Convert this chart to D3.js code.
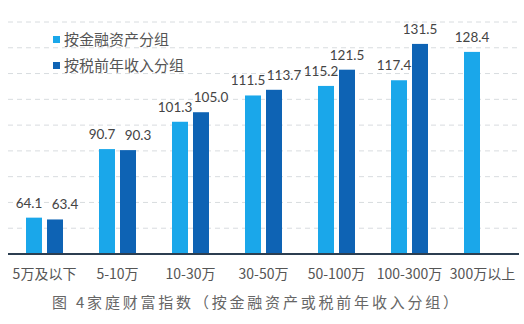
<!DOCTYPE html>
<meta charset="utf-8">
<head>
  <title>家庭财富指数</title>
</head>
<body style="margin:0;background:#fff;">
<style>
.grid line { stroke: #d8dcdf; stroke-dasharray: 5,4; }
.val { font: 13.5px "Lato", "Noto Sans", sans-serif; fill: #444; text-anchor: middle; }
.cat { font: 14px "Noto Sans CJK SC", sans-serif; fill: #555; text-anchor: middle; }
.leg { font: 15px "Noto Sans CJK SC", sans-serif; fill: #555; }
.cap { font: 15px "Noto Sans CJK SC", sans-serif; fill: #666; letter-spacing: 2.8px; }
</style>
<svg width="524" height="324"></svg>
<script src="https://d3js.org/d3.v7.min.js"></script>
<script>

var categories = ["5万及以下", "5-10万", "10-30万", "30-50万", "50-100万", "100-300万", "300万以上"];
var byAssets = [64.1, 90.7, 101.3, 111.5, 115.2, 117.4, 128.4];
var byIncome = [63.4, 90.3, 105.0, 113.7, 121.5, 131.5, null];
var seriesNames = ["按金融资产分组", "按税前年收入分组"];
var colors = ["#1aa7ea", "#0e63b4"];
var gridTicks = [60, 70, 80, 90, 100, 110, 120, 130, 140];

var svg = d3.select("svg"),
    plotL = 8, plotR = 519, plotT = 22, plotB = 254;

var x = d3.scaleBand().domain(categories).range([plotL, plotR]);
var y = d3.scaleLinear().domain([50, 140]).range([plotB, plotT]);

var barW = 16, gap = 5;

svg.append("g").attr("class", "grid")
  .selectAll("line").data(gridTicks).enter().append("line")
    .attr("x1", plotL).attr("x2", plotR)
    .attr("y1", function(d) { return y(d); })
    .attr("y2", function(d) { return y(d); });

var rows = categories.map(function(c, i) { return { cat: c, v: [byAssets[i], byIncome[i]] }; });

// labels of the two bars crowd each other when the heights are close
function crowded(d) {
  return d.v[1] != null && Math.abs(y(d.v[0]) - y(d.v[1])) < 12;
}

var grp = svg.selectAll(".grp").data(rows).enter().append("g").attr("class", "grp");

[0, 1].forEach(function(s) {
  var off = s == 0 ? -(barW + gap / 2) : gap / 2;
  var g = grp.filter(function(d) { return d.v[s] != null; });
  g.append("rect")
    .attr("x", function(d) { return x(d.cat) + x.bandwidth() / 2 + off; })
    .attr("y", function(d) { return y(d.v[s]); })
    .attr("width", barW)
    .attr("height", function(d) { return plotB - y(d.v[s]); })
    .attr("fill", colors[s]);
  g.append("text").attr("class", "val")
    .attr("x", function(d) {
      var cx = x(d.cat) + x.bandwidth() / 2 + off + barW / 2;
      if (s == 0 && d.v[1] != null) cx -= 5;
      if (s == 1 && crowded(d)) cx += 10;
      return cx;
    })
    .attr("y", function(d) { return y(d.v[s]) - 10; })
    .text(function(d) { return d.v[s].toFixed(1); });
});

svg.append("line")
  .attr("x1", plotL).attr("x2", plotR)
  .attr("y1", plotB).attr("y2", plotB)
  .attr("stroke", "#2c3e50").attr("stroke-width", 2);

svg.selectAll(".cat").data(categories).enter().append("text").attr("class", "cat")
  .attr("x", function(d) { return x(d) + x.bandwidth() / 2; })
  .attr("y", 279)
  .text(function(d) { return d; });

// legend
seriesNames.forEach(function(n, i) {
  svg.append("rect").attr("x", 53).attr("y", 36 + i * 26).attr("width", 7).attr("height", 7).attr("fill", colors[i]);
  svg.append("text").attr("class", "leg").attr("x", 64).attr("y", 45 + i * 26).text(n);
});

svg.append("text").attr("class", "cap").attr("x", 52).attr("y", 308)
  .text("图 4家庭财富指数（按金融资产或税前年收入分组）");

</script>
</body>
</html>
